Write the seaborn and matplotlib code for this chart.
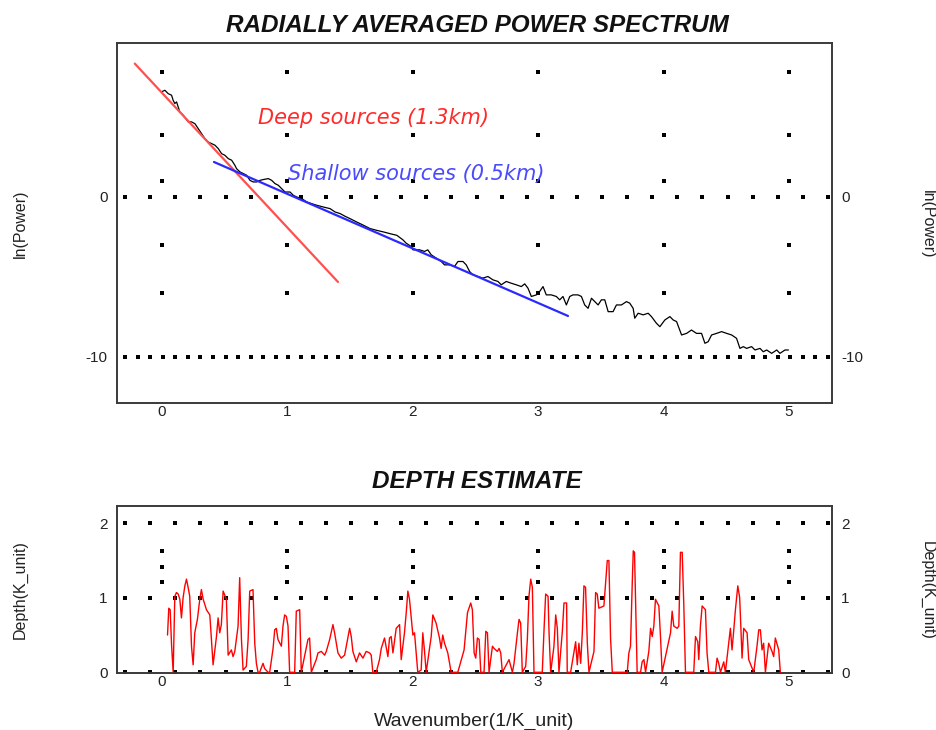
import numpy as np
import pandas as pd
import matplotlib
matplotlib.use("Agg")
import matplotlib.pyplot as plt
import seaborn as sns

# ---------------- data ----------------
spec_k = [0.000, 0.027, 0.053, 0.080, 0.093, 0.106, 0.120, 0.133, 0.146, 0.173,
          0.213, 0.239, 0.266, 0.293, 0.319, 0.346, 0.372, 0.399, 0.426, 0.452,
          0.479, 0.505, 0.532, 0.559, 0.585, 0.598, 0.625, 0.652, 0.678, 0.705,
          0.731, 0.758, 0.785, 0.811, 0.851, 0.878, 0.904, 0.931, 0.957, 0.984,
          1.024, 1.051, 1.077, 1.117, 1.157, 1.197, 1.237, 1.290, 1.343, 1.383,
          1.423, 1.463, 1.503, 1.556, 1.609, 1.662, 1.715, 1.769, 1.822, 1.875,
          1.923, 1.949, 1.989, 2.003, 2.029, 2.056, 2.096, 2.122, 2.149, 2.189,
          2.229, 2.255, 2.295, 2.335, 2.362, 2.402, 2.428, 2.455, 2.481, 2.521,
          2.561, 2.601, 2.641, 2.681, 2.707, 2.747, 2.787, 2.827, 2.867, 2.894,
          2.920, 2.947, 2.987, 3.013, 3.040, 3.066, 3.106, 3.146, 3.173, 3.199,
          3.226, 3.253, 3.279, 3.319, 3.346, 3.372, 3.399, 3.426, 3.452, 3.479,
          3.505, 3.532, 3.559, 3.598, 3.625, 3.665, 3.705, 3.731, 3.758, 3.771,
          3.798, 3.838, 3.878, 3.904, 3.944, 3.971, 4.011, 4.051, 4.077, 4.104,
          4.144, 4.184, 4.223, 4.263, 4.303, 4.330, 4.356, 4.383, 4.423, 4.463,
          4.503, 4.543, 4.582, 4.609, 4.636, 4.662, 4.702, 4.729, 4.769, 4.795,
          4.822, 4.862, 4.902, 4.928, 4.968, 4.995]
spec_lnp = [6.58, 6.68, 6.47, 6.37, 6.05, 5.85, 5.95, 5.64, 5.32, 5.11,
            4.70, 4.70, 4.59, 4.28, 3.97, 3.65, 3.44, 3.34, 3.24, 3.03,
            2.71, 2.61, 2.40, 2.30, 1.98, 1.77, 1.57, 1.46, 1.36, 1.04,
            0.94, 0.94, 1.04, 1.09, 1.15, 1.04, 0.84, 0.73, 0.52, 0.31,
            0.31, 0.10, 0.00, -0.10, -0.31, -0.42, -0.52, -0.63, -0.73, -0.94,
            -1.04, -1.21, -1.36, -1.57, -1.77, -1.98, -2.09, -2.19, -2.30, -2.40,
            -2.68, -2.89, -3.10, -3.31, -3.31, -3.31, -3.41, -3.31, -3.62, -3.83,
            -4.04, -4.25, -4.25, -4.35, -4.04, -4.04, -4.25, -4.67, -4.87, -4.98,
            -5.08, -4.98, -5.19, -5.29, -5.50, -5.29, -5.40, -5.50, -5.61, -5.44,
            -5.71, -6.23, -6.13, -5.92, -5.61, -6.13, -6.13, -6.23, -6.44, -6.23,
            -6.76, -6.23, -6.13, -6.13, -6.23, -6.76, -6.97, -6.34, -6.55, -6.76,
            -6.44, -6.44, -7.18, -7.18, -6.76, -6.76, -6.55, -6.65, -6.97, -7.59,
            -7.28, -7.38, -7.28, -7.49, -7.91, -8.12, -7.70, -7.49, -7.70, -7.80,
            -8.64, -8.54, -8.33, -8.54, -8.54, -9.16, -9.06, -8.64, -8.54, -8.43,
            -8.54, -8.64, -8.85, -9.48, -9.37, -9.48, -9.37, -9.58, -9.48, -9.69,
            -9.58, -9.79, -9.58, -9.79, -9.58, -9.58]

deep_k = [-0.213, 1.406]
deep_lnp = [8.35, -5.32]
shallow_k = [0.418, 3.239]
shallow_lnp = [2.19, -7.45]
deep_label = "Deep sources (1.3km)"
shallow_label = "Shallow sources (0.5km)"

depth_k = [0.048, 0.058, 0.069, 0.080, 0.093, 0.106, 0.119, 0.133, 0.146, 0.159,
           0.172, 0.186, 0.199, 0.212, 0.225, 0.239, 0.252, 0.265, 0.286, 0.305,
           0.318, 0.332, 0.358, 0.385, 0.398, 0.411, 0.438, 0.451, 0.464, 0.477,
           0.491, 0.517, 0.531, 0.557, 0.570, 0.584, 0.610, 0.623, 0.637, 0.650,
           0.676, 0.690, 0.703, 0.729, 0.743, 0.756, 0.769, 0.782, 0.809, 0.822,
           0.849, 0.862, 0.889, 0.902, 0.915, 0.928, 0.955, 0.968, 0.981, 0.995,
           1.008, 1.021, 1.061, 1.074, 1.101, 1.114, 1.167, 1.180, 1.194, 1.233,
           1.247, 1.273, 1.300, 1.313, 1.340, 1.366, 1.379, 1.406, 1.432, 1.459,
           1.499, 1.512, 1.525, 1.552, 1.578, 1.605, 1.631, 1.658, 1.671, 1.684,
           1.711, 1.737, 1.751, 1.777, 1.804, 1.817, 1.830, 1.844, 1.870, 1.897,
           1.910, 1.936, 1.950, 1.963, 1.976, 2.003, 2.016, 2.042, 2.069, 2.082,
           2.095, 2.109, 2.149, 2.162, 2.188, 2.215, 2.228, 2.241, 2.255, 2.281,
           2.308, 2.361,
           2.411, 2.438, 2.464, 2.477, 2.491, 2.504, 2.517, 2.531, 2.544, 2.570,
           2.584, 2.597, 2.610, 2.637, 2.650, 2.676, 2.690, 2.703, 2.716, 2.769,
           2.796, 2.809, 2.836, 2.849, 2.862, 2.875, 2.902, 2.915, 2.928, 2.942,
           2.955, 2.968, 3.034, 3.048, 3.061, 3.080, 3.088, 3.101, 3.127, 3.141,
           3.154, 3.167, 3.194, 3.207, 3.228, 3.233, 3.260, 3.300, 3.313, 3.326,
           3.340, 3.353, 3.366, 3.379, 3.393, 3.406, 3.446, 3.459, 3.472, 3.485,
           3.525, 3.552, 3.565, 3.578, 3.592, 3.711, 3.724, 3.737, 3.751, 3.759,
           3.769, 3.790, 3.817, 3.830, 3.844, 3.857, 3.883, 3.897, 3.910, 3.923,
           3.936, 3.963, 3.976, 3.989, 4.056, 4.069, 4.082, 4.109, 4.122, 4.135,
           4.149, 4.162, 4.175, 4.241, 4.255, 4.273, 4.281, 4.294, 4.308, 4.334,
           4.347, 4.361, 4.414, 4.427, 4.440, 4.454, 4.480, 4.493, 4.520, 4.533,
           4.546, 4.560, 4.573, 4.592, 4.607, 4.626, 4.639, 4.666, 4.679, 4.719,
           4.732, 4.745, 4.759, 4.772, 4.785, 4.798, 4.812, 4.838, 4.865, 4.878,
           4.891, 4.918, 4.931]
depth_val = [0.50, 0.86, 0.84, 0.37, 0.00, 1.02, 1.07, 1.05, 0.98, 0.73,
             1.00, 1.16, 1.25, 1.14, 1.02, 0.35, 0.10, 0.53, 0.71, 0.98,
             1.11, 0.98, 0.84, 0.77, 0.44, 0.10, 0.48, 0.73, 0.53, 0.64,
             1.09, 0.98, 0.23, 0.30, 0.21, 0.28, 0.62, 1.27, 0.44, 0.03,
             0.08, 0.44, 1.09, 1.11, 0.39, 0.12, 0.00, 0.00, 0.12, 0.05,
             0.00, 0.00, 0.32, 0.57, 0.59, 0.44, 0.35, 0.62, 0.77, 0.75,
             0.62, 0.00, 0.00, 0.82, 0.84, 0.00, 0.44, 0.46, 0.00, 0.17,
             0.26, 0.28, 0.23, 0.28, 0.44, 0.64, 0.53, 0.26, 0.19, 0.23,
             0.59, 0.48, 0.28, 0.14, 0.26, 0.19, 0.28, 0.26, 0.23, 0.00,
             0.00, 0.17, 0.32, 0.46, 0.21, 0.46, 0.48, 0.26, 0.59, 0.64,
             0.17, 0.53, 0.80, 1.09, 0.98, 0.50, 0.53, 0.00, 0.03, 0.53,
             0.30, 0.00, 0.48, 0.77, 0.66, 0.46, 0.32, 0.50, 0.39, 0.26,
             0.00, 0.00,
             0.30, 0.80, 0.93, 0.84, 0.26, 0.19, 0.46, 0.44, 0.00, 0.00,
             0.55, 0.53, 0.00, 0.35, 0.32, 0.28, 0.32, 0.26, 0.00, 0.17,
             0.00, 0.12, 0.53, 0.71, 0.66, 0.00, 0.08, 0.44, 1.02, 1.25,
             1.14, 0.00, 0.00, 0.57, 1.05, 1.02, 0.53, 0.00, 0.35, 0.77,
             0.59, 0.00, 0.55, 0.93, 0.93, 0.00, 0.00, 0.41, 0.10, 0.39,
             0.12, 0.53, 1.16, 1.14, 0.39, 0.00, 0.28, 1.07, 1.05, 0.86,
             0.89, 1.50, 1.50, 0.46, 0.00, 0.00, 0.26, 0.35, 1.20, 1.63,
             1.61, 0.00, 0.00, 0.14, 0.17, 0.00, 0.28, 0.59, 0.48, 0.62,
             0.98, 0.89, 0.48, 0.00, 0.53, 0.82, 0.62, 0.59, 0.62, 1.61,
             1.61, 0.89, 0.00, 0.00, 0.48, 0.41, 0.17, 0.62, 0.89, 0.84,
             0.26, 0.00, 0.00, 0.19, 0.12, 0.00, 0.14, 0.00, 0.39, 0.59,
             0.30, 0.57, 0.84, 1.16, 1.00, 0.19, 0.59, 0.53, 0.17, 0.00,
             0.17, 0.35, 0.57, 0.57, 0.30, 0.39, 0.00, 0.39, 0.28, 0.21,
             0.46, 0.30, 0.00]

x_ticks = [0, 1, 2, 3, 4, 5]
top_yticks = [0, -10]
bot_yticks = [0, 1, 2]

# decorative dotted grid levels
top_hlines_sparse = [0]
top_hlines_dense = [-10]
top_col_levels = [7.85, 3.9, 0.98, -3.0, -6.03]
bot_hlines = [0, 1, 2]
bot_col_levels = [1.63, 1.41, 1.21]

spec_df = pd.DataFrame({"k": spec_k, "lnp": spec_lnp})
deep_df = pd.DataFrame({"k": deep_k, "lnp": deep_lnp})
shallow_df = pd.DataFrame({"k": shallow_k, "lnp": shallow_lnp})
depth_df = pd.DataFrame({"k": depth_k, "d": depth_val})

# ---------------- style ----------------
sns.set_style("white")
plt.rcParams["font.family"] = ["Liberation Sans", "DejaVu Sans"]
plt.rcParams["axes.unicode_minus"] = False

W, H = 937, 730
fig = plt.figure(figsize=(W / 100, H / 100), dpi=100)

def fx(px):
    return px / W

def fy(py):
    return 1 - py / H

L, R = 116.7, 832.3
ax1 = fig.add_axes([fx(L), fy(402.7), fx(R - L), (402.7 - 43.3) / H])
ax2 = fig.add_axes([fx(L), fy(672.5), fx(R - L), (672.5 - 506) / H])

xlim = (-0.357, 5.345)
dot_kw = dict(ls="none", marker="s", ms=2.4, color="black", mew=0, clip_on=False, zorder=1)
sparse_x = np.arange(0, 29) * 0.2 - 0.29
dense_x = np.arange(0, 57) * 0.1 - 0.29

# ---- top panel ----
for yv in top_hlines_sparse:
    ax1.plot(sparse_x, np.full_like(sparse_x, yv), **dot_kw)
for yv in top_hlines_dense:
    ax1.plot(dense_x, np.full_like(dense_x, yv), **dot_kw)
for xv in x_ticks:
    ax1.plot([xv] * len(top_col_levels), top_col_levels, **dot_kw)

sns.lineplot(data=spec_df, x="k", y="lnp", ax=ax1, sort=False, estimator=None,
             color="black", lw=0.9, zorder=3)
sns.lineplot(data=deep_df, x="k", y="lnp", ax=ax1, sort=False, estimator=None,
             color="#ff5050", lw=1.6, zorder=4)
sns.lineplot(data=shallow_df, x="k", y="lnp", ax=ax1, sort=False, estimator=None,
             color="#2a2aff", lw=1.6, zorder=4)

ax1.text(0.769, 4.55, deep_label, color="#ff2a2a", fontsize=15, style="italic",
         family="DejaVu Sans", va="baseline", ha="left")
ax1.text(1.008, 1.06, shallow_label, color="#4a4aff", fontsize=15, style="italic",
         family="DejaVu Sans", va="baseline", ha="left")

ax1.set_xlim(*xlim)
ax1.set_ylim(-12.88, 9.62)
ax1.set_yticks(top_yticks)

# ---- bottom panel ----
for yv in bot_hlines:
    ax2.plot(sparse_x, np.full_like(sparse_x, yv), **dot_kw)
for xv in x_ticks:
    ax2.plot([xv] * len(bot_col_levels), bot_col_levels, **dot_kw)

sns.lineplot(data=depth_df, x="k", y="d", ax=ax2, sort=False, estimator=None,
             color="#ff0000", lw=1.0, zorder=3)
ax2.set_xlim(*xlim)
ax2.set_ylim(-0.003, 2.232)
ax2.set_yticks(bot_yticks)

for ax in (ax1, ax2):
    ax.set_xticks(x_ticks)
    ax.set_xlabel("")
    ax.set_ylabel("")
    ax.tick_params(axis="both", length=0, labelsize=11, colors="#222222")
    ax.tick_params(axis="x", pad=1.5)
    ax.tick_params(axis="y", pad=6.5, labelleft=True, labelright=True)
    for s in ax.spines.values():
        s.set_visible(True)
        s.set_color("#3a3a3a")
        s.set_linewidth(1.4)

# ---- titles and labels ----
fig.text(fx(477), fy(31.5), "RADIALLY AVERAGED POWER SPECTRUM", ha="center",
         va="baseline", fontsize=17.5, fontweight="bold", style="italic", color="#111111")
fig.text(fx(476.5), fy(488.5), "DEPTH ESTIMATE", ha="center", va="baseline",
         fontsize=17.5, fontweight="bold", style="italic", color="#111111")
fig.text(fx(474), fy(726), "Wavenumber(1/K_unit)", ha="center", va="baseline",
         fontsize=14, color="#222222")

fig.text(fx(20), fy(224), "ln(Power)", rotation=90, ha="center", va="center",
         fontsize=11.5, color="#222222")
fig.text(fx(927), fy(224), "ln(Power)", rotation=270, ha="center", va="center",
         fontsize=11.5, color="#222222")
fig.text(fx(20), fy(590), "Depth(K_unit)", rotation=90, ha="center", va="center",
         fontsize=11.5, color="#222222")
fig.text(fx(927), fy(590), "Depth(K_unit)", rotation=270, ha="center", va="center",
         fontsize=11.5, color="#222222")

fig.savefig("out.png", dpi=100)
